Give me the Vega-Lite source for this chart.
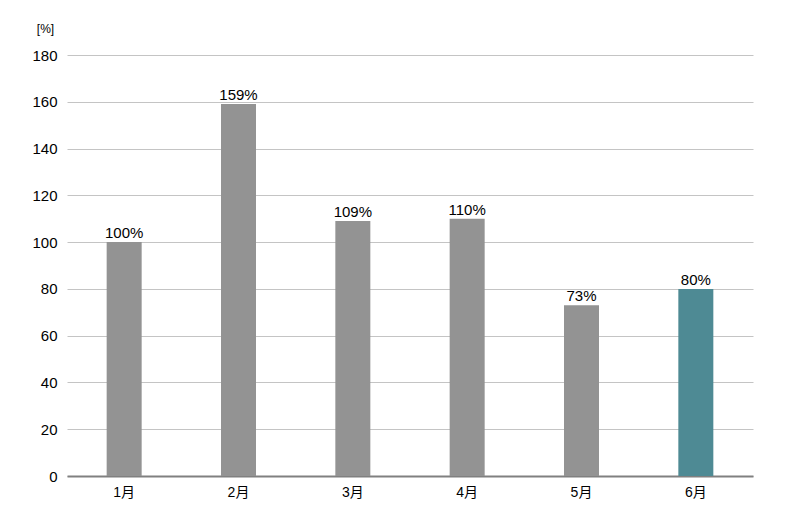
{
  "$schema": "https://vega.github.io/schema/vega-lite/v6.json",
  "width": 686,
  "height": 421,
  "autosize": {"type": "none"},
  "padding": {"left": 67, "top": 55, "right": 47, "bottom": 44},
  "background": "white",
  "config": {
    "view": {"stroke": null},
    "font": "Liberation Sans"
  },
  "data": {
    "values": [
      {"month": "1月", "value": 100, "label": "100%", "highlight": "no"},
      {"month": "2月", "value": 159, "label": "159%", "highlight": "no"},
      {"month": "3月", "value": 109, "label": "109%", "highlight": "no"},
      {"month": "4月", "value": 110, "label": "110%", "highlight": "no"},
      {"month": "5月", "value": 73, "label": "73%", "highlight": "no"},
      {"month": "6月", "value": 80, "label": "80%", "highlight": "yes"}
    ]
  },
  "encoding": {
    "x": {
      "field": "month", "type": "nominal", "sort": null,
      "axis": {
        "title": null, "labelAngle": 0, "ticks": false, "domainColor": "#808080", "domainWidth": 2,
        "labelFontSize": 14, "labelColor": "#000000", "labelPadding": 9,
        "labelFont": "Liberation Sans, Noto Sans CJK JP"
      }
    },
    "y": {
      "field": "value", "type": "quantitative",
      "scale": {"domain": [0, 180]},
      "axis": {
        "values": [0, 20, 40, 60, 80, 100, 120, 140, 160, 180],
        "title": "[%]", "titleAngle": 0, "titleX": -22, "titleY": -20, "titleAlign": "center",
        "titleFontSize": 12, "titleFontWeight": "normal", "titleColor": "#000000",
        "domain": false, "ticks": false, "labelPadding": 10,
        "labelFontSize": 15, "labelColor": "#000000",
        "gridColor": "#c4c4c4", "gridWidth": 1
      }
    }
  },
  "layer": [
    {
      "mark": {"type": "bar", "width": 35},
      "encoding": {
        "color": {
          "field": "highlight", "type": "nominal",
          "scale": {"domain": ["no", "yes"], "range": ["#939393", "#4e8a94"]},
          "legend": null
        }
      }
    },
    {
      "mark": {"type": "text", "baseline": "bottom", "dy": -1, "fontSize": 15, "color": "#000000"},
      "encoding": {"text": {"field": "label"}}
    }
  ]
}
